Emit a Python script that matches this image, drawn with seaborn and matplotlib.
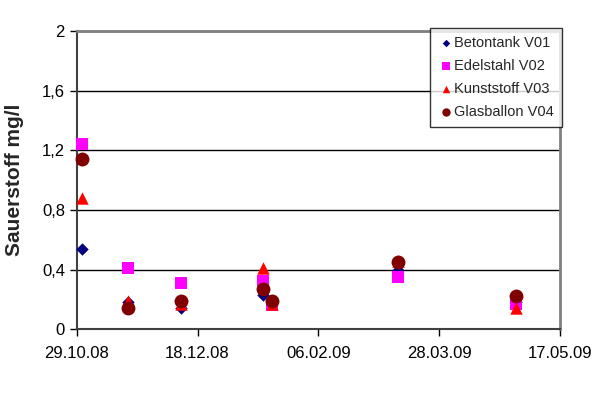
import pandas as pd
import numpy as np
import matplotlib
matplotlib.use('Agg')
import matplotlib.pyplot as plt
import matplotlib.dates as mdates
import seaborn as sb

dates = ['31.10.2008', '19.11.2008', '11.12.2008', '14.01.2009', '18.01.2009', '11.03.2009', '29.04.2009']
beton = [0.54, 0.18, 0.14, 0.23, 0.18, 0.40, 0.18]
edelstahl = [1.24, 0.41, 0.31, 0.32, 0.16, 0.35, 0.17]
kunststoff = [0.88, 0.19, 0.17, 0.41, 0.17, 0.46, 0.14]
glas = [1.14, 0.14, 0.19, 0.27, 0.19, 0.45, 0.22]

series = ['Betontank V01', 'Edelstahl V02', 'Kunststoff V03', 'Glasballon V04']
colors = ['#000080', '#FF00FF', '#FF0000', '#800000']
markers = ['D', 's', '^', 'o']
sizes = [40, 80, 80, 100]

xticks = ['29.10.2008', '18.12.2008', '06.02.2009', '28.03.2009', '17.05.2009']
yticks = [0, 0.4, 0.8, 1.2, 1.6, 2]

df = pd.DataFrame({'Datum': pd.to_datetime(dates, format='%d.%m.%Y'),
                   series[0]: beton, series[1]: edelstahl,
                   series[2]: kunststoff, series[3]: glas})
long = df.melt(id_vars='Datum', var_name='Behaelter', value_name='Sauerstoff')

sb.set_style('white')
plt.rcParams['font.family'] = ['Liberation Sans', 'DejaVu Sans']

fig = plt.figure(figsize=(6, 3.98), dpi=100)
ax = fig.add_axes([0.128, 0.173, 0.805, 0.749])

for name, c, m, s in zip(series, colors, markers, sizes):
    sub = long[long.Behaelter == name]
    sb.scatterplot(data=sub, x='Datum', y='Sauerstoff', color=c, marker=m, s=s,
                   edgecolor=c, linewidth=0, label=name, ax=ax, zorder=3)
for coll in ax.collections:
    coll.set_clip_on(False)

xt = pd.to_datetime(xticks, format='%d.%m.%Y')
ax.set_xlim(xt[0], xt[-1])
ax.set_xticks(xt)
ax.xaxis.set_major_formatter(mdates.DateFormatter('%d.%m.%y'))
ax.set_ylim(0, 2)
ax.set_yticks(yticks)
ax.set_yticklabels(['0', '0,4', '0,8', '1,2', '1,6', '2'])
ax.yaxis.grid(True, color='black', linewidth=1)
ax.set_axisbelow(True)

ax.set_xlabel('')
ax.set_ylabel('Sauerstoff mg/l', fontsize=15, fontweight='bold')
ax.yaxis.set_label_coords(-0.128 + 9 / 483, 0.5)
ax.tick_params(axis='both', labelsize=12, direction='out', length=5, width=1,
               colors='black', left=True, bottom=True)
ax.tick_params(axis='x', pad=7)
for side in ['left', 'bottom']:
    ax.spines[side].set_color('#404040')
    ax.spines[side].set_linewidth(1.5)
for side in ['top', 'right']:
    ax.spines[side].set_color('#808080')
    ax.spines[side].set_linewidth(2)

leg = ax.legend(loc='upper right', bbox_to_anchor=(1.005, 1.01), frameon=True, fancybox=False,
                fontsize=10.5, handletextpad=0.0, handlelength=1.1, borderpad=0.55, labelspacing=0.62,
                markerscale=0.6, borderaxespad=0)
leg.get_frame().set_edgecolor('black')
leg.get_frame().set_linewidth(1)

fig.savefig('out.png', dpi=100)
